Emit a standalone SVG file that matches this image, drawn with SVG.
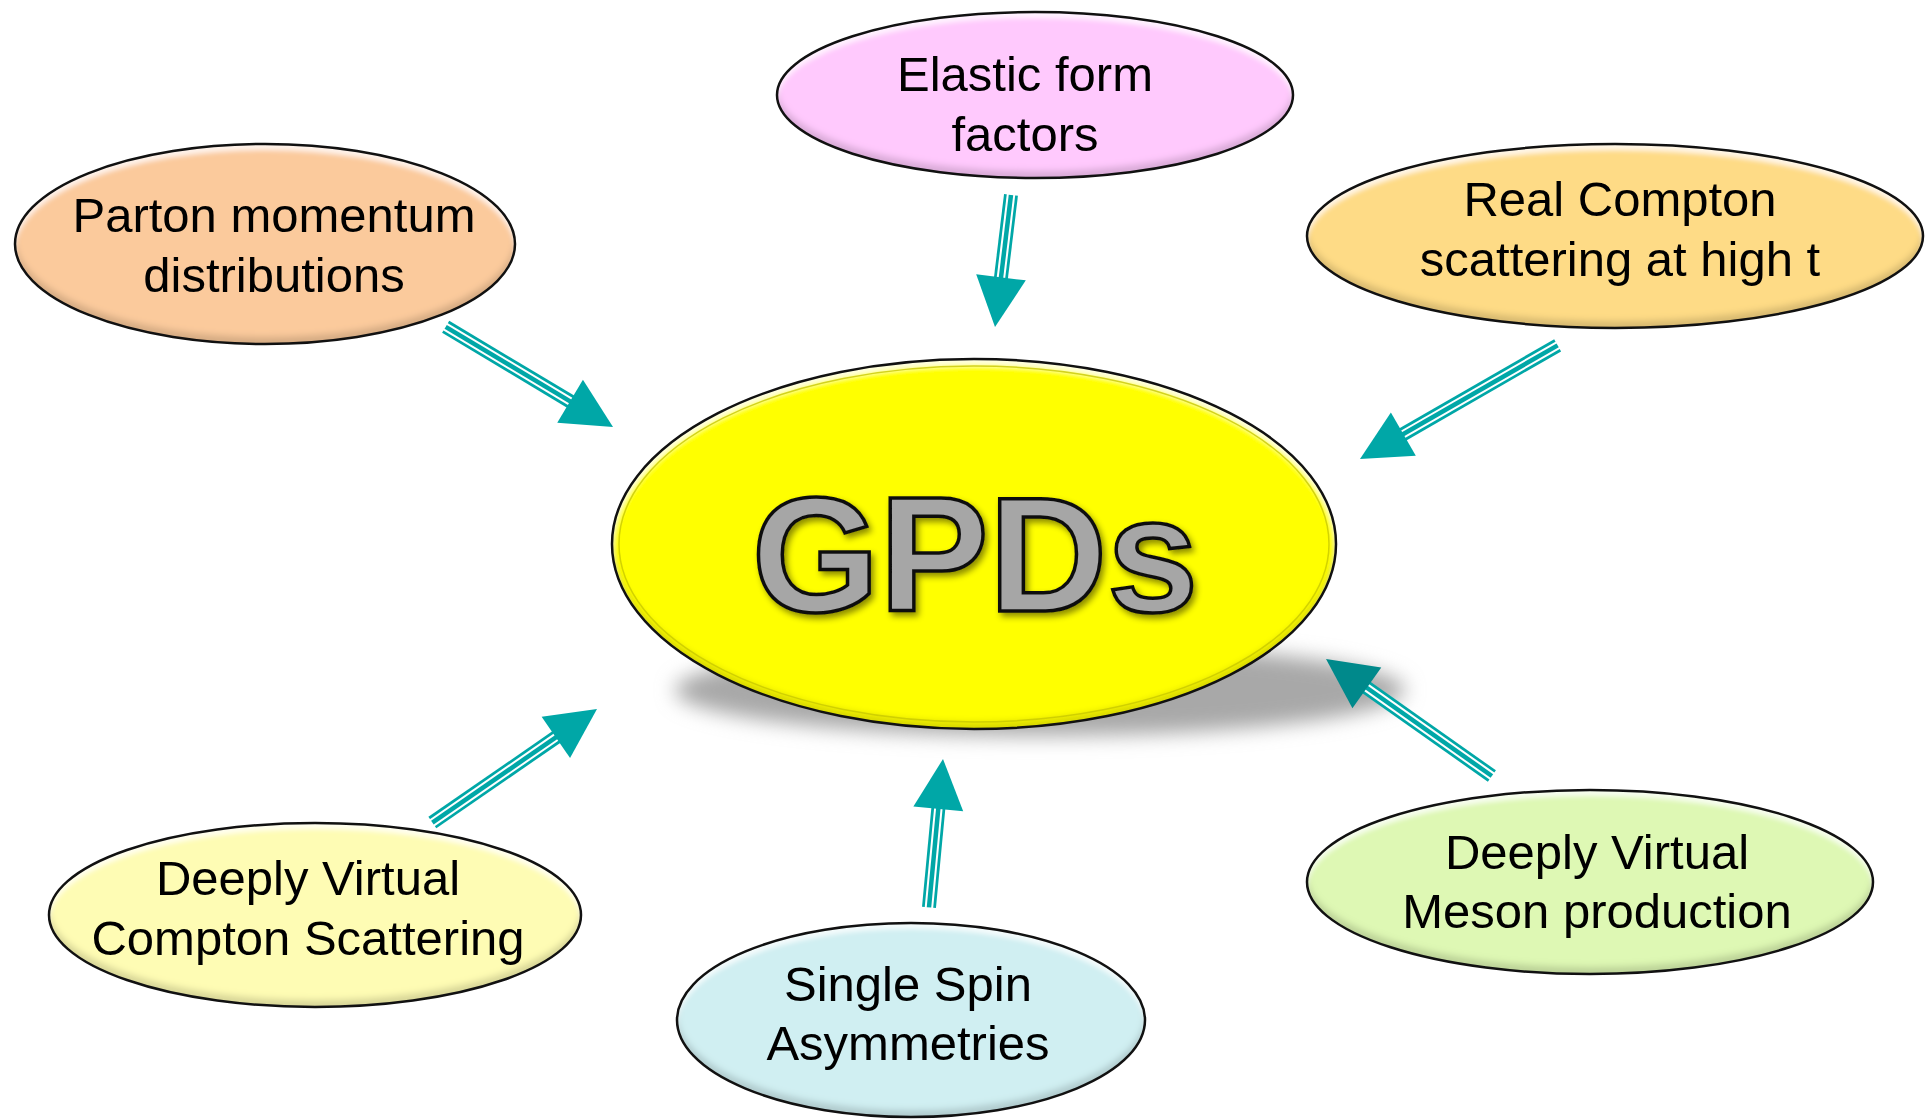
<svg xmlns="http://www.w3.org/2000/svg" width="1930" height="1120" viewBox="0 0 1930 1120">
<style>
.lbl{font-family:"Liberation Sans",Arial,sans-serif;font-size:49px;fill:#000;text-anchor:middle}
.edge{fill:none;stroke:#111;stroke-width:2.5}
.sh1{stroke:#00a7a7;stroke-width:14;fill:none}
.sh2{stroke:#fff;stroke-width:8.5;fill:none}
.sh3{stroke:#00a7a7;stroke-width:4.5;fill:none}
.head{fill:#00a7a7}
.gpd{font-family:"Liberation Sans",Arial,sans-serif;font-weight:bold;font-size:164px;fill:#a6a6a6;stroke:#111;stroke-width:3.5;text-anchor:middle}
</style>
<defs>
<filter id="bev" x="-5%" y="-10%" width="110%" height="120%">
  <feOffset in="SourceAlpha" dy="-7" result="up"/>
  <feGaussianBlur in="up" stdDeviation="3" result="upb"/>
  <feComposite in="SourceAlpha" in2="upb" operator="out" result="bot"/>
  <feFlood flood-color="#000" flood-opacity="0.3"/>
  <feComposite in2="bot" operator="in" result="botc"/>
  <feOffset in="SourceAlpha" dy="6" result="dn"/>
  <feGaussianBlur in="dn" stdDeviation="2.5" result="dnb"/>
  <feComposite in="SourceAlpha" in2="dnb" operator="out" result="top"/>
  <feFlood flood-color="#fff" flood-opacity="0.75"/>
  <feComposite in2="top" operator="in" result="topc"/>
  <feMerge><feMergeNode in="SourceGraphic"/><feMergeNode in="botc"/><feMergeNode in="topc"/></feMerge>
</filter>
<filter id="blur" x="-20%" y="-50%" width="140%" height="200%">
  <feGaussianBlur stdDeviation="10"/>
</filter>
<filter id="tsh" x="-10%" y="-10%" width="120%" height="130%">
  <feDropShadow dx="3" dy="4" stdDeviation="3" flood-color="#000" flood-opacity="0.45"/>
</filter>
</defs>

<g id="connectors">
  <g transform="translate(613,427) rotate(30.9)">
    <line class="sh1" x1="-195" y1="0" x2="-46" y2="0"/><line class="sh2" x1="-196" y1="0" x2="-46" y2="0"/><line class="sh3" x1="-195" y1="0" x2="-46" y2="0"/>
    <polygon class="head" points="0,0 -50,-25 -50,25"/>
  </g>
  <g transform="translate(995,327) rotate(96.9)">
    <line class="sh1" x1="-133" y1="0" x2="-46" y2="0"/><line class="sh2" x1="-134" y1="0" x2="-46" y2="0"/><line class="sh3" x1="-133" y1="0" x2="-46" y2="0"/>
    <polygon class="head" points="0,0 -50,-25 -50,25"/>
  </g>
  <g transform="translate(1360,459) rotate(150.1)">
    <line class="sh1" x1="-228" y1="0" x2="-46" y2="0"/><line class="sh2" x1="-229" y1="0" x2="-46" y2="0"/><line class="sh3" x1="-228" y1="0" x2="-46" y2="0"/>
    <polygon class="head" points="0,0 -50,-25 -50,25"/>
  </g>
  <g transform="translate(597,709) rotate(-34.6)">
    <line class="sh1" x1="-200" y1="0" x2="-46" y2="0"/><line class="sh2" x1="-201" y1="0" x2="-46" y2="0"/><line class="sh3" x1="-200" y1="0" x2="-46" y2="0"/>
    <polygon class="head" points="0,0 -50,-25 -50,25"/>
  </g>
  <g transform="translate(943,759) rotate(-84.6)">
    <line class="sh1" x1="-149" y1="0" x2="-46" y2="0"/><line class="sh2" x1="-150" y1="0" x2="-46" y2="0"/><line class="sh3" x1="-149" y1="0" x2="-46" y2="0"/>
    <polygon class="head" points="0,0 -50,-25 -50,25"/>
  </g>
</g>

<g id="gpds">
  <ellipse cx="1040" cy="690" rx="365" ry="46" fill="#a8a8a8" filter="url(#blur)"/>
  <ellipse cx="974" cy="544" rx="362" ry="185" fill="#ffff00" filter="url(#bev)"/>
  <ellipse cx="974" cy="544" rx="355" ry="178" fill="none" stroke="#c8c800" stroke-width="1.5" opacity="0.8"/>
  <ellipse class="edge" cx="974" cy="544" rx="362" ry="185"/>
  <text class="gpd" x="975" y="611" filter="url(#tsh)">GPDs</text>
</g>

<g id="connector-dvmp">
  <g transform="translate(1326,659) rotate(-144.8)">
    <line class="sh1" x1="-203" y1="0" x2="-46" y2="0"/><line class="sh2" x1="-204" y1="0" x2="-46" y2="0"/><line class="sh3" x1="-203" y1="0" x2="-46" y2="0"/>
    <polygon points="0,0 -50,-25 -50,25" fill="#00898b"/>
  </g>
</g>

<g id="elastic">
  <ellipse cx="1035" cy="95" rx="258" ry="83" fill="#ffc9fd" filter="url(#bev)"/>
  <ellipse class="edge" cx="1035" cy="95" rx="258" ry="83"/>
  <text class="lbl" x="1025" y="91">Elastic form</text>
  <text class="lbl" x="1025" y="151">factors</text>
</g>

<g id="parton">
  <ellipse cx="265" cy="244" rx="250" ry="100" fill="#fbca9c" filter="url(#bev)"/>
  <ellipse class="edge" cx="265" cy="244" rx="250" ry="100"/>
  <text class="lbl" x="274" y="232">Parton momentum</text>
  <text class="lbl" x="274" y="292">distributions</text>
</g>

<g id="realcompton">
  <ellipse cx="1615" cy="236" rx="308" ry="92" fill="#fedb86" filter="url(#bev)"/>
  <ellipse class="edge" cx="1615" cy="236" rx="308" ry="92"/>
  <text class="lbl" x="1620" y="216">Real Compton</text>
  <text class="lbl" x="1620" y="276">scattering at high t</text>
</g>

<g id="dvcs">
  <ellipse cx="315" cy="915" rx="266" ry="92" fill="#fefcb4" filter="url(#bev)"/>
  <ellipse class="edge" cx="315" cy="915" rx="266" ry="92"/>
  <text class="lbl" x="308" y="895">Deeply Virtual</text>
  <text class="lbl" x="308" y="955">Compton Scattering</text>
</g>

<g id="singlespin">
  <ellipse cx="911" cy="1020" rx="234" ry="97" fill="#d0eff2" filter="url(#bev)"/>
  <ellipse class="edge" cx="911" cy="1020" rx="234" ry="97"/>
  <text class="lbl" x="908" y="1001">Single Spin</text>
  <text class="lbl" x="908" y="1060">Asymmetries</text>
</g>

<g id="dvmp">
  <ellipse cx="1590" cy="882" rx="283" ry="92" fill="#def8b4" filter="url(#bev)"/>
  <ellipse class="edge" cx="1590" cy="882" rx="283" ry="92"/>
  <text class="lbl" x="1597" y="869">Deeply Virtual</text>
  <text class="lbl" x="1597" y="928">Meson production</text>
</g>
</svg>
